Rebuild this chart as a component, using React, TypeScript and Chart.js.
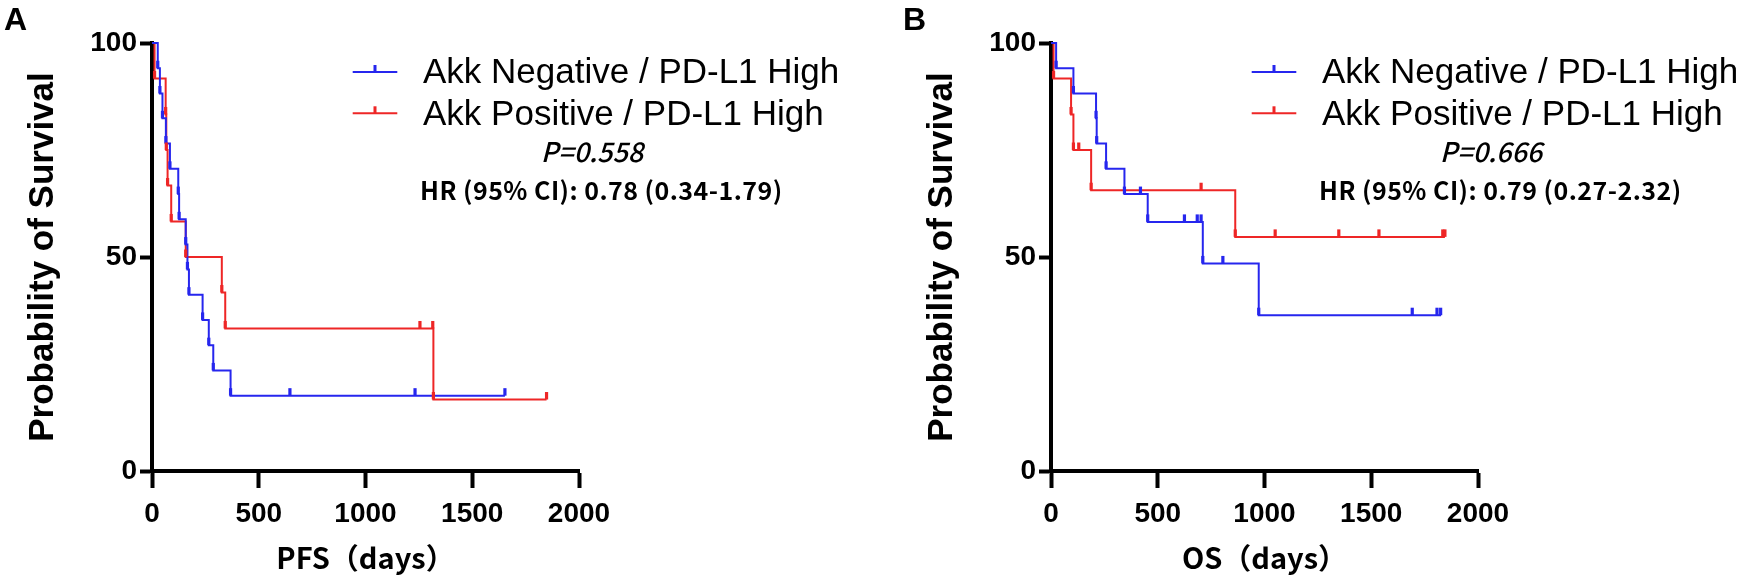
import React, { useEffect, useRef } from "react";
import { Chart, registerables } from "chart.js";

Chart.register(...registerables);

// ---------- data ----------
const xTicks = [0, 500, 1000, 1500, 2000];
const yTicks = [0, 50, 100];
const seriesLabels = ["Akk Negative / PD-L1 High", "Akk Positive / PD-L1 High"];
const seriesColors = ["rgb(38,38,238)", "rgb(238,38,38)"];

// Panel A: PFS
const pfsNegTimes = [0, 27, 37, 49, 65, 84, 123, 127, 158, 166, 173, 237, 266, 287, 368, 1653];
const pfsNegSurv = [100, 94.1, 88.2, 82.4, 76.5, 70.6, 64.7, 58.8, 52.9, 47.1, 41.2, 35.3, 29.4, 23.5, 17.6, 17.6];
const pfsNegCensor = [646, 1232, 1653];

const pfsPosTimes = [0, 12, 64, 67, 73, 90, 158, 327, 343, 1318, 1848];
const pfsPosSurv = [100, 91.7, 83.3, 75, 66.7, 58.3, 50, 41.7, 33.3, 16.7, 16.7];
const pfsPosCensor = [1255, 1315, 1848];

// Panel B: OS
const osNegTimes = [0, 24, 105, 211, 214, 258, 344, 453, 711, 973, 1827];
const osNegSurv = [100, 94.1, 88.2, 82.4, 76.5, 70.6, 64.7, 58.2, 48.5, 36.4, 36.4];
const osNegCensor = [419, 625, 685, 703, 805, 1692, 1808, 1825];

const osPosTimes = [0, 12, 94, 105, 188, 863, 1845];
const osPosSurv = [100, 91.7, 83.3, 75, 65.6, 54.7, 54.7];
const osPosCensor = [130, 703, 1050, 1348, 1536, 1835, 1845];

const panelA = {
  letter: "A",
  xTitle: "PFS（days）",
  pText: "P=0.558",
  hrText: "HR (95% CI): 0.78 (0.34-1.79)",
  neg: { times: pfsNegTimes, surv: pfsNegSurv, censor: pfsNegCensor },
  pos: { times: pfsPosTimes, surv: pfsPosSurv, censor: pfsPosCensor },
};
const panelB = {
  letter: "B",
  xTitle: "OS（days）",
  pText: "P=0.666",
  hrText: "HR (95% CI): 0.79 (0.27-2.32)",
  neg: { times: osNegTimes, surv: osNegSurv, censor: osNegCensor },
  pos: { times: osPosTimes, surv: osPosSurv, censor: osPosCensor },
};

// ---------- helpers ----------
function levelAt(times: number[], surv: number[], t: number) {
  let s = surv[0];
  for (let i = 0; i < times.length; i++) {
    if (times[i] <= t) s = surv[i];
  }
  return s;
}

function fitText(ctx: any, text: string, x: number, y: number, target: number) {
  ctx.letterSpacing = "0px";
  const w = ctx.measureText(text).width;
  const n = Math.max(1, text.length - 1);
  const ls = (target - w) / n;
  ctx.letterSpacing = ls.toFixed(2) + "px";
  ctx.fillText(text, x, y);
  ctx.letterSpacing = "0px";
}

const kmPlugin = {
  id: "kmText",
  afterDatasetsDraw(chart: any) {
    const ctx = chart.ctx;
    const xs = chart.scales.x;
    const ys = chart.scales.y;
    chart.data.datasets.forEach((ds: any) => {
      ctx.save();
      ctx.fillStyle = ds.borderColor;
      const marks: number[][] = [];
      for (let i = 1; i < ds.times.length - 1; i++) marks.push([ds.times[i], ds.surv[i]]);
      ds.censor.forEach((t: number) => marks.push([t, levelAt(ds.times, ds.surv, t)]));
      marks.forEach(([t, s]) => {
        const px = xs.getPixelForValue(t);
        const py = ys.getPixelForValue(s);
        ctx.fillRect(px - 1.6, py - 7.5, 3.2, 7.5);
      });
      ctx.restore();
    });
  },
  afterDraw(chart: any, _args: any, opts: any) {
    const ctx = chart.ctx;
    const { left, top } = chart.chartArea;
    ctx.save();
    // legend
    chart.data.datasets.forEach((ds: any, i: number) => {
      const ly = top + 29 + i * 41.3;
      ctx.strokeStyle = ds.borderColor;
      ctx.lineWidth = 2;
      ctx.beginPath();
      ctx.moveTo(left + 200.7, ly);
      ctx.lineTo(left + 245.3, ly);
      ctx.stroke();
      ctx.fillStyle = ds.borderColor;
      ctx.fillRect(left + 223 - 1.5, ly - 7, 3, 7);
      ctx.fillStyle = "#000";
      ctx.font = '35px "Liberation Sans"';
      ctx.textAlign = "left";
      ctx.textBaseline = "alphabetic";
      ctx.fillText(ds.label, left + 271, top + 40 + i * 42.3);
    });
    // P value
    ctx.fillStyle = "#000";
    ctx.font = 'italic 500 27px "Noto Sans CJK JP"';
    ctx.textAlign = "center";
    ctx.fillText(opts.pText, left + 440, top + 119.3);
    // HR
    ctx.font = 'bold 25px "Noto Sans CJK JP"';
    ctx.textAlign = "left";
    fitText(ctx, opts.hrText, left + 268, top + 157.3, 362);
    // panel letter
    ctx.font = 'bold 32px "Liberation Sans"';
    ctx.fillText(opts.letter, 4, 30);
    ctx.restore();
  },
};

function KMPanel({ panel, left }: { panel: any; left: number }) {
  const ref = useRef<HTMLCanvasElement | null>(null);
  useEffect(() => {
    if (!ref.current) return;
    const mk = (s: any, i: number) => ({
      label: seriesLabels[i],
      data: s.times.map((t: number, k: number) => ({ x: t, y: s.surv[k] })),
      times: s.times,
      surv: s.surv,
      censor: s.censor,
      borderColor: seriesColors[i],
      backgroundColor: seriesColors[i],
      borderWidth: 2,
      pointRadius: 0,
      stepped: "before",
      fill: false,
      clip: false,
    });
    const chart = new Chart(ref.current, {
      type: "line",
      data: { datasets: [mk(panel.neg, 0), mk(panel.pos, 1)] as any },
      options: {
        animation: false,
        responsive: false,
        events: [],
        layout: { padding: { left: 0, right: 291, top: 43, bottom: 0 } },
        plugins: {
          legend: { display: false },
          tooltip: { enabled: false },
          kmText: { pText: panel.pText, hrText: panel.hrText, letter: panel.letter },
        } as any,
        scales: {
          x: {
            type: "linear",
            min: 0,
            max: 2000,
            afterBuildTicks: (s: any) => {
              s.ticks = xTicks.map((v) => ({ value: v }));
            },
            afterFit: (s: any) => {
              s.height = 106;
            },
            ticks: {
              color: "#000",
              font: { family: "Liberation Sans", size: 28, weight: "bold" },
              padding: 9,
              maxRotation: 0,
              callback: (v: any) => String(v),
            },
            grid: {
              drawOnChartArea: false,
              drawTicks: true,
              tickLength: 17,
              tickWidth: 4,
              tickColor: "#000",
            },
            border: { display: true, color: "#000", width: 4 },
            title: {
              display: true,
              text: panel.xTitle,
              color: "#000",
              font: { family: "Noto Sans CJK JP", size: 29, weight: "bold" },
              padding: { top: 0, bottom: 2 },
            },
          },
          y: {
            type: "linear",
            min: 0,
            max: 100,
            afterBuildTicks: (s: any) => {
              s.ticks = yTicks.map((v) => ({ value: v }));
            },
            afterFit: (s: any) => {
              s.width = 152;
            },
            ticks: {
              color: "#000",
              font: { family: "Liberation Sans", size: 28, weight: "bold" },
              padding: 3,
              callback: (v: any) => String(v),
            },
            grid: {
              drawOnChartArea: false,
              drawTicks: true,
              tickLength: 12,
              tickWidth: 4,
              tickColor: "#000",
            },
            border: { display: true, color: "#000", width: 4 },
            title: {
              display: true,
              text: "Probability of Survival",
              color: "#000",
              font: { family: "Liberation Sans", size: 35, weight: "bold" },
              padding: { top: 22, bottom: 0 },
            },
          },
        },
      } as any,
      plugins: [kmPlugin as any],
    });
    return () => chart.destroy();
  }, [panel]);
  return (
    <canvas
      ref={ref}
      width={870}
      height={577}
      style={{ position: "absolute", left, top: 0, width: 870, height: 577 }}
    />
  );
}

export default function App() {
  return (
    <div
      style={{
        position: "fixed",
        left: 0,
        top: 0,
        width: 1741,
        height: 577,
        background: "#fff",
        overflow: "hidden",
      }}
    >
      <KMPanel panel={panelA} left={0} />
      <KMPanel panel={panelB} left={899} />
    </div>
  );
}
